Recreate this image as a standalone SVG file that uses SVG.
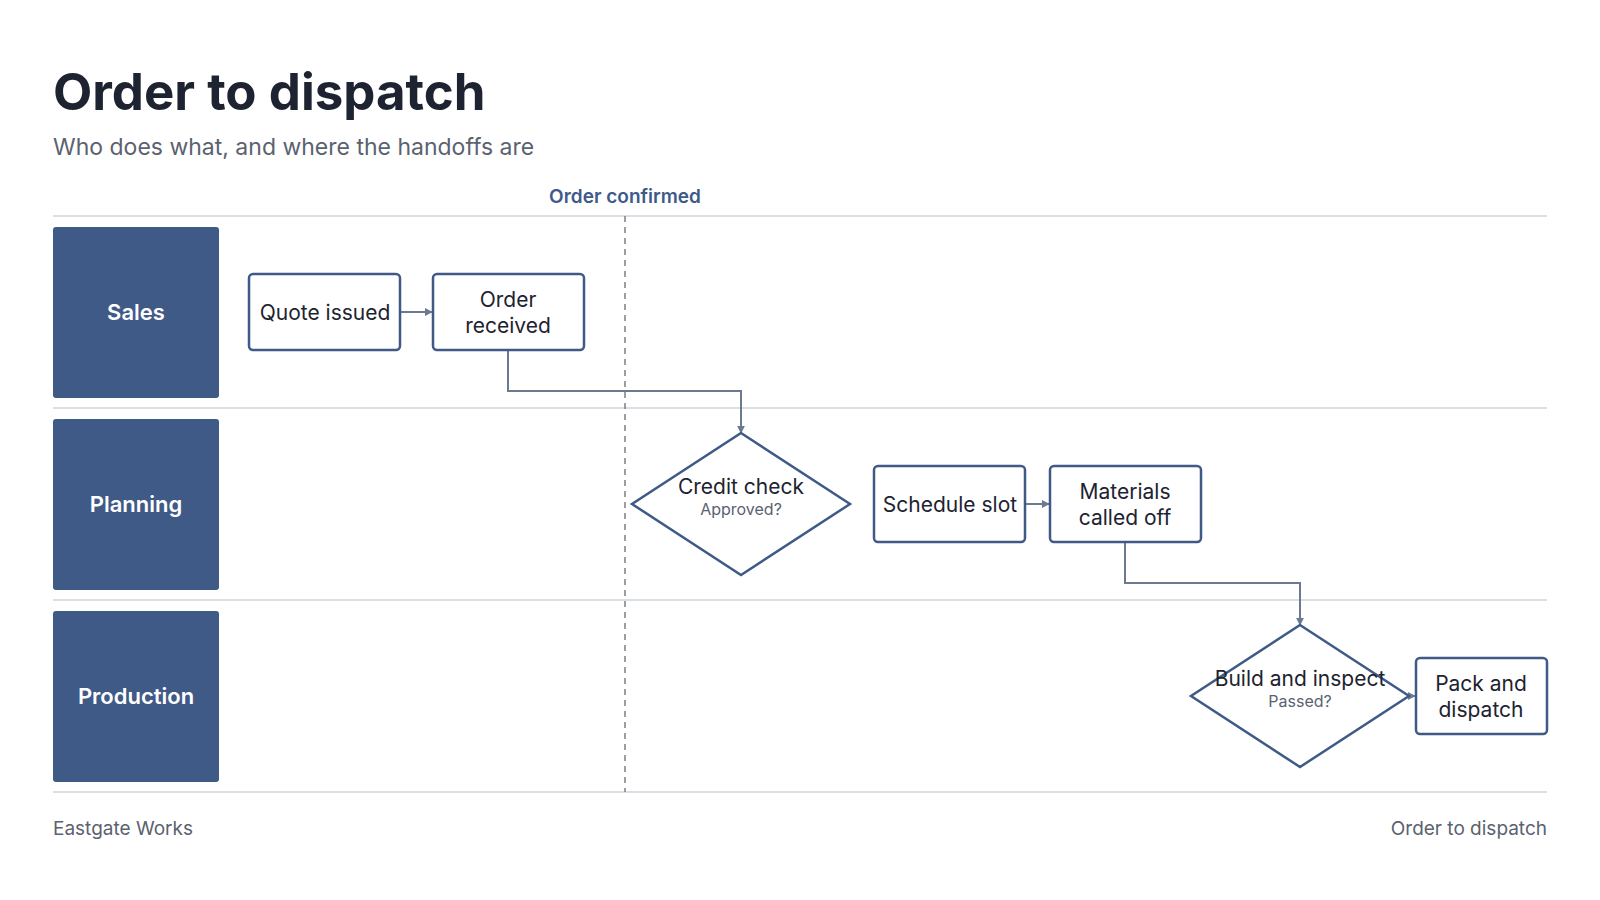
<svg xmlns="http://www.w3.org/2000/svg" width="1600" height="900" viewBox="0 0 1600 900">
<style>
text{font-family:Inter,"Liberation Sans",sans-serif}
.lane{fill:#3f5a87}
.lt{fill:#fff;font-size:22px;font-weight:600;text-anchor:middle}
.box{fill:#fff;stroke:#3f5a87;stroke-width:2.5}
.bt{fill:#1d2330;font-size:21px;text-anchor:middle}
.st{fill:#5a6270;font-size:16px;text-anchor:middle}
.sep{stroke:#cfd3d8;stroke-width:1.5}
.c{fill:none;stroke:#6b7a90;stroke-width:2;marker-end:url(#a)}
</style>
<defs><marker id="a" viewBox="0 0 10 10" refX="9" refY="5" markerWidth="8" markerHeight="8" orient="auto" markerUnits="userSpaceOnUse"><path d="M0,0L10,5L0,10z" fill="#6b7a90"/></marker></defs>
<rect width="1600" height="900" fill="#fff"/>
<text x="53" y="110" font-size="51" font-weight="700" fill="#1d2330">Order to dispatch</text>
<text x="53" y="155" font-size="23" fill="#5a6270">Who does what, and where the handoffs are</text>
<text x="625" y="203" font-size="19" font-weight="600" fill="#3d5a8a" text-anchor="middle">Order confirmed</text>
<line class="sep" x1="53" y1="216" x2="1547" y2="216"/>
<line class="sep" x1="53" y1="408" x2="1547" y2="408"/>
<line class="sep" x1="53" y1="600" x2="1547" y2="600"/>
<line class="sep" x1="53" y1="792" x2="1547" y2="792"/>
<line x1="625" y1="216" x2="625" y2="792" stroke="#7a7f88" stroke-width="1.5" stroke-dasharray="6 5"/>
<g id="lane-sales"><rect class="lane" x="53" y="227" width="166" height="171" rx="3"/><text class="lt" x="136" y="320">Sales</text></g>
<g id="lane-planning"><rect class="lane" x="53" y="419" width="166" height="171" rx="3"/><text class="lt" x="136" y="512">Planning</text></g>
<g id="lane-production"><rect class="lane" x="53" y="611" width="166" height="171" rx="3"/><text class="lt" x="136" y="704">Production</text></g>
<g id="connectors">
<path class="c" d="M400,312H432"/>
<path class="c" d="M508,350V391H741V433"/>
<path class="c" d="M1025,504H1049"/>
<path class="c" d="M1125,542V583H1300V625"/>
<path class="c" d="M1409,696H1415"/>
</g>
<g id="quote"><rect class="box" x="249" y="274" width="151" height="76" rx="4"/><text class="bt" x="325" y="320">Quote issued</text></g>
<g id="order"><rect class="box" x="433" y="274" width="151" height="76" rx="4"/><text class="bt" x="508" y="307">Order</text><text class="bt" x="508" y="333">received</text></g>
<g id="credit"><polygon class="box" points="741,433 850,504 741,575 632,504"/><text class="bt" x="741" y="494" font-size="19">Credit check</text><text class="st" x="741" y="515">Approved?</text></g>
<g id="schedule"><rect class="box" x="874" y="466" width="151" height="76" rx="4"/><text class="bt" x="950" y="512">Schedule slot</text></g>
<g id="materials"><rect class="box" x="1050" y="466" width="151" height="76" rx="4"/><text class="bt" x="1125" y="499">Materials</text><text class="bt" x="1125" y="525">called off</text></g>
<g id="build"><polygon class="box" points="1300,625 1409,696 1300,767 1191,696"/><text class="bt" x="1300" y="686" font-size="19">Build and inspect</text><text class="st" x="1300" y="707">Passed?</text></g>
<g id="pack"><rect class="box" x="1416" y="658" width="131" height="76" rx="4"/><text class="bt" x="1481" y="691">Pack and</text><text class="bt" x="1481" y="717">dispatch</text></g>
<text x="53" y="835" font-size="19" fill="#5a6270">Eastgate Works</text>
<text x="1547" y="835" font-size="19" fill="#5a6270" text-anchor="end">Order to dispatch</text>
</svg>
